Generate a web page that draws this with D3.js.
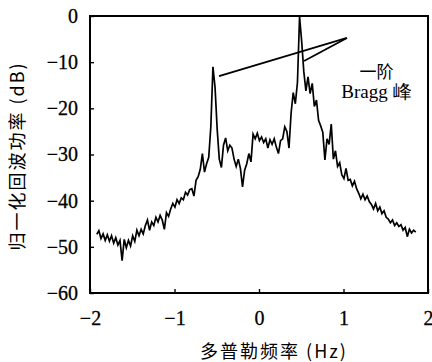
<!DOCTYPE html>
<html><head><meta charset="utf-8">
<script src="https://cdn.jsdelivr.net/npm/d3@7"></script>
<style>body{margin:0;background:#fff}svg{display:block}</style>
</head><body>
<svg id="c" width="432" height="362"></svg>
<script>
// Doppler frequency grid (Hz): sampling start and step
const freqStart = -1.92;
const freqStep = 0.025;
// normalised echo power (dB)
const powerDb = [
 -47.3,-46.5,-48.2,-47.2,-48.6,-47.4,-48.8,-47.6,-49.2,-48.0,
 -49.6,-48.6,-53.0,-48.4,-50.2,-48.6,-49.8,-47.6,-48.8,-46.4,
 -47.6,-46.2,-47.2,-45.4,-44.2,-46.4,-44.6,-45.4,-43.6,-44.6,
 -43.2,-44.2,-46.2,-42.6,-43.4,-41.8,-40.6,-41.4,-39.8,-40.6,
 -39.4,-39.8,-38.2,-38.8,-37.6,-37.4,-39.0,-35.6,-34.8,-33.2,
 -29.8,-33.8,-32.0,-30.6,-24.0,-11.0,-15.5,-24.5,-31.0,-32.8,
 -28.0,-26.4,-29.2,-28.0,-28.6,-31.0,-32.6,-31.0,-33.0,-37.0,
 -33.4,-32.0,-29.8,-31.6,-25.6,-26.6,-25.4,-27.0,-26.2,-27.4,
 -26.6,-28.6,-26.8,-27.8,-26.6,-28.4,-29.8,-27.0,-26.6,-24.0,
 -25.0,-28.6,-21.0,-16.6,-19.0,-14.4,-0.2,-5.5,-12.0,-16.2,
 -13.2,-16.8,-14.6,-19.6,-18.2,-22.6,-23.8,-25.2,-31.2,-26.6,
 -27.8,-23.4,-31.0,-29.2,-32.6,-31.8,-34.4,-35.2,-33.0,-35.6,
 -35.4,-36.8,-35.8,-37.4,-38.4,-39.6,-38.6,-39.8,-39.0,-40.2,
 -40.8,-41.8,-40.6,-42.2,-41.4,-42.8,-42.2,-43.6,-44.0,-44.8,
 -44.2,-45.4,-44.8,-45.6,-45.2,-46.4,-45.8,-47.8,-46.2,-47.0,
 -46.4,-46.8
];
const xTicks = [-2, -1, 0, 1, 2];
const yTicks = [0, -10, -20, -30, -40, -50, -60];
const xLabel = "多普勒频率 (Hz)";
const yLabel = "归一化回波功率 (dB)";
const annoLine1 = "一阶";
const annoLine2 = "Bragg 峰";
// annotation leader lines in data units: [freq, dB]
const leaderApex = [1.041, -4.76];
const leaderEnds = [[-0.473, -13.0], [0.533, -9.75]];

const svg = d3.select("#c");
const L = 90, R = 428, T = 16, B = 293;
const x = d3.scaleLinear().domain([-2, 2]).range([L, R]);
const y = d3.scaleLinear().domain([-60, 0]).range([B, T]);
const serif = "'Liberation Serif','Times New Roman',serif";
const cjk = "'Noto Sans CJK SC','Liberation Serif',sans-serif";

const data = powerDb.map((v, i) => [freqStart + i * freqStep, v]);

// axes with inward ticks
const gx = svg.append("g").attr("transform", `translate(0,${B})`)
  .call(d3.axisBottom(x).tickValues(xTicks).tickSizeInner(-4).tickSizeOuter(0)
    .tickFormat(d => d < 0 ? "\u2212" + Math.abs(d) : d).tickPadding(18));
const gy = svg.append("g").attr("transform", `translate(${L},0)`)
  .call(d3.axisLeft(y).tickValues(yTicks).tickSizeInner(-4).tickSizeOuter(0)
    .tickFormat(d => d < 0 ? "\u2212" + Math.abs(d) : d).tickPadding(12));
[gx, gy].forEach(g => {
  g.select(".domain").remove();
  g.selectAll("line").attr("stroke", "#000").attr("stroke-width", 1.4);
  g.selectAll("text").attr("font-family", serif).attr("font-size", 20)
    .attr("fill", "#000").attr("stroke", "#000").attr("stroke-width", 0.3);
});

// frame
svg.append("rect").attr("x", L).attr("y", T).attr("width", R - L).attr("height", B - T)
  .attr("fill", "none").attr("stroke", "#000").attr("stroke-width", 2);

// spectrum
svg.append("path").datum(data)
  .attr("fill", "none").attr("stroke", "#000").attr("stroke-width", 1.7)
  .attr("stroke-linejoin", "miter")
  .attr("d", d3.line().x(d => x(d[0])).y(d => y(d[1])));

// annotation leaders
leaderEnds.forEach(e => {
  svg.append("line")
    .attr("x1", x(leaderApex[0])).attr("y1", y(leaderApex[1]))
    .attr("x2", x(e[0])).attr("y2", y(e[1]))
    .attr("stroke", "#000").attr("stroke-width", 1.8);
});
svg.append("text").attr("x", x(1.39)).attr("y", y(-13.4)).attr("text-anchor", "middle")
  .attr("font-family", cjk).attr("font-size", 17).text(annoLine1);
svg.append("text").attr("x", x(1.39)).attr("y", y(-17.8)).attr("text-anchor", "middle")
  .attr("font-family", serif).attr("font-size", 19).text(annoLine2);

// axis titles
svg.append("text").attr("x", 274).attr("y", 358).attr("text-anchor", "middle")
  .attr("font-family", cjk).attr("font-size", 18).attr("letter-spacing", 2).text(xLabel);
svg.append("text").attr("transform", "translate(24,156) rotate(-90)").attr("text-anchor", "middle")
  .attr("font-family", cjk).attr("font-size", 18).attr("letter-spacing", 2).text(yLabel);
</script>
</body></html>
